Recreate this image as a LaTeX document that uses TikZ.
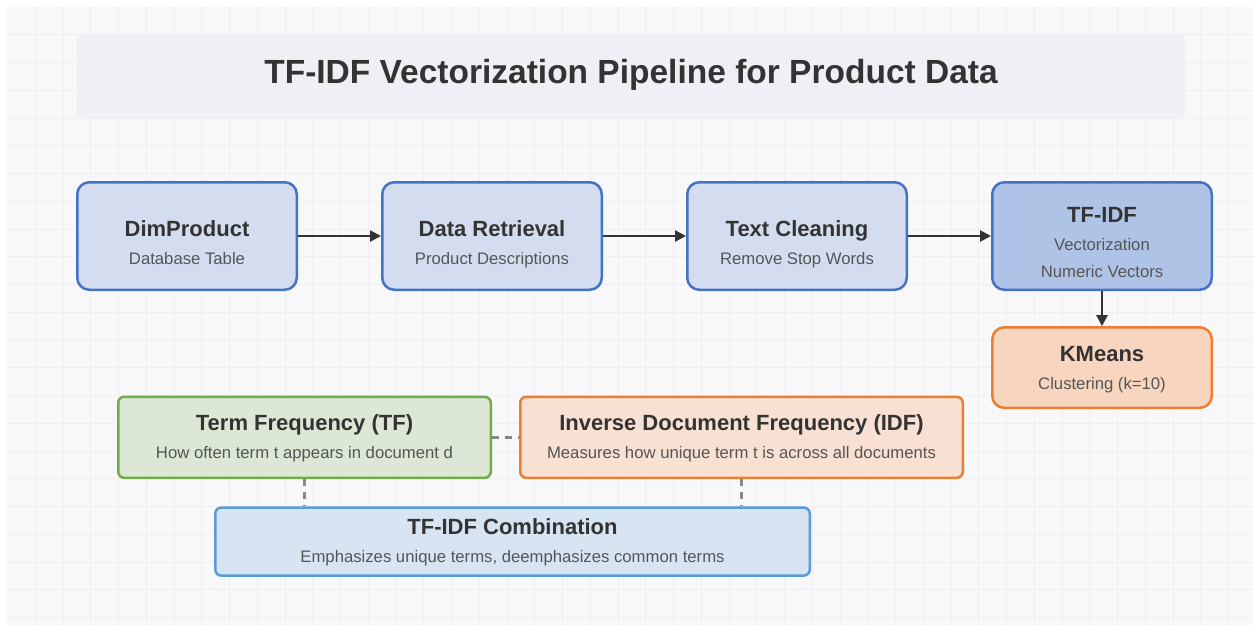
\documentclass[tikz,border=0pt]{standalone}
\usepackage{fontspec}
\setmainfont{Liberation Sans}
\usetikzlibrary{arrows.meta, positioning, calc}
\definecolor{cInk}      {HTML}{333333}
\definecolor{cMuted}    {HTML}{555555}
\definecolor{cCanvas}   {HTML}{F8F8FA}
\definecolor{cGrid}     {HTML}{EEEEF2}
\definecolor{cHead}     {HTML}{EFF0F5}
\definecolor{cStageFill}{HTML}{D4DDEF}
\definecolor{cStageEdge}{HTML}{4472C4}
\definecolor{cVecFill}  {HTML}{AFC3E6}
\definecolor{cClusFill} {HTML}{F8D5BE}
\definecolor{cOrange}   {HTML}{ED7D31}
\definecolor{cTfFill}   {HTML}{DCE8D5}
\definecolor{cTfEdge}   {HTML}{70AD47}
\definecolor{cIdfFill}  {HTML}{F8E0D2}
\definecolor{cMixFill}  {HTML}{D7E5F3}
\definecolor{cMixEdge}  {HTML}{5B9BD5}
\definecolor{cLink}     {HTML}{888888}

\begin{document}
\begin{tikzpicture}[x=1pt, y=-1pt,
    stagebox/.style={draw=cStageEdge, fill=cStageFill, line width=2.5pt,
      rounded corners=12pt, minimum width=219.5pt, minimum height=107.5pt,
      inner sep=0pt},
    notebox/.style={line width=2.5pt, rounded corners=6pt,
      minimum height=81pt, inner sep=0pt},
    ttl/.style={font=\fontsize{22}{26}\selectfont\bfseries, text=cInk,
      anchor=base, inner sep=0pt},
    sublbl/.style={font=\fontsize{16.7}{20}\selectfont, text=cMuted,
      anchor=base, inner sep=0pt},
    flow/.style={draw=cInk, line width=2.5pt,
      -{Triangle[length=11pt,width=11pt]}},
    link/.style={draw=cLink, line width=2.5pt, dash pattern=on 7pt off 6pt}]

  \useasboundingbox (0,0) rectangle (1253,625);
  \fill[white] (0,0) rectangle (1253,625);
  \fill[cCanvas] (7,7) rectangle (1253,625);
  % light grid behind everything
  \foreach \g in {1,...,44}{
    \draw[cGrid, line width=1pt] ({7.6+\g*27.75},7) -- ({7.6+\g*27.75},625);
  }
  \foreach \g in {1,...,22}{
    \draw[cGrid, line width=1pt] (7,{7.2+\g*27.75}) -- (1253,{7.2+\g*27.75});
  }

  % heading
  \node[fill=cHead, rounded corners=6pt, minimum width=1108pt,
        minimum height=83pt, inner sep=0pt] (head) at (631,76.5) {};
  \node[font=\fontsize{33.5}{40}\selectfont\bfseries, text=cInk,
        anchor=base, inner sep=0pt] (headtxt) at (631,83.3)
        {TF-IDF Vectorization Pipeline for Product Data};

  % pipeline stages
  \foreach \nm/\cx/\tt/\st in {dim/187/DimProduct/Database Table,
      ret/492/Data Retrieval/Product Descriptions,
      cln/797/Text Cleaning/Remove Stop Words}{
    \node[stagebox] (\nm) at (\cx,236) {};
    \node[ttl] (\nm-t) at (\cx,236) {\tt};
    \node[sublbl] (\nm-s) at (\cx,264) {\st};
  }
  \node[stagebox, fill=cVecFill] (vec) at (1102,236) {};
  \node[ttl] (vec-t) at (1102,222.3) {TF-IDF};
  \node[sublbl] (vec-s1) at (1102,250) {Vectorization};
  \node[sublbl] (vec-s2) at (1102,277.7) {Numeric Vectors};

  \node[stagebox, fill=cClusFill, draw=cOrange, minimum height=80.5pt]
        (km) at (1102,367.6) {};
  \node[ttl] (km-t) at (1102,361) {KMeans};
  \node[sublbl] (km-s) at (1102,389) {Clustering (k=10)};

  \draw[flow] (dim) -- (ret);
  \draw[flow] (ret) -- (cln);
  \draw[flow] (cln) -- (vec);
  \draw[flow] (vec) -- (km);

  % the two factors and how they combine
  \node[notebox, draw=cTfEdge, fill=cTfFill, minimum width=372.5pt]
        (tf) at (304.5,437.3) {};
  \node[ttl] (tf-t) at (304.5,430) {Term Frequency (TF)};
  \node[sublbl] (tf-s) at (304.5,458.5) {How often term t appears in document d};

  \node[notebox, draw=cOrange, fill=cIdfFill, minimum width=442.5pt]
        (idf) at (741.5,437.3) {};
  \node[ttl] (idf-t) at (741.5,430) {Inverse Document Frequency (IDF)};
  \node[sublbl] (idf-s) at (741.5,458.5) {Measures how unique term t is across all documents};

  \node[notebox, draw=cMixEdge, fill=cMixFill, minimum width=594.5pt,
        minimum height=68pt] (mix) at (512.5,541.6) {};
  \node[ttl] (mix-t) at (512.5,534) {TF-IDF Combination};
  \node[sublbl] (mix-s) at (512.5,562.7) {Emphasizes unique terms, deemphasizes common terms};

  \draw[link] (tf) -- (idf);
  \draw[link] (tf) -- (tf |- mix.north);
  \draw[link] (idf) -- (idf |- mix.north);
\end{tikzpicture}
\end{document}
